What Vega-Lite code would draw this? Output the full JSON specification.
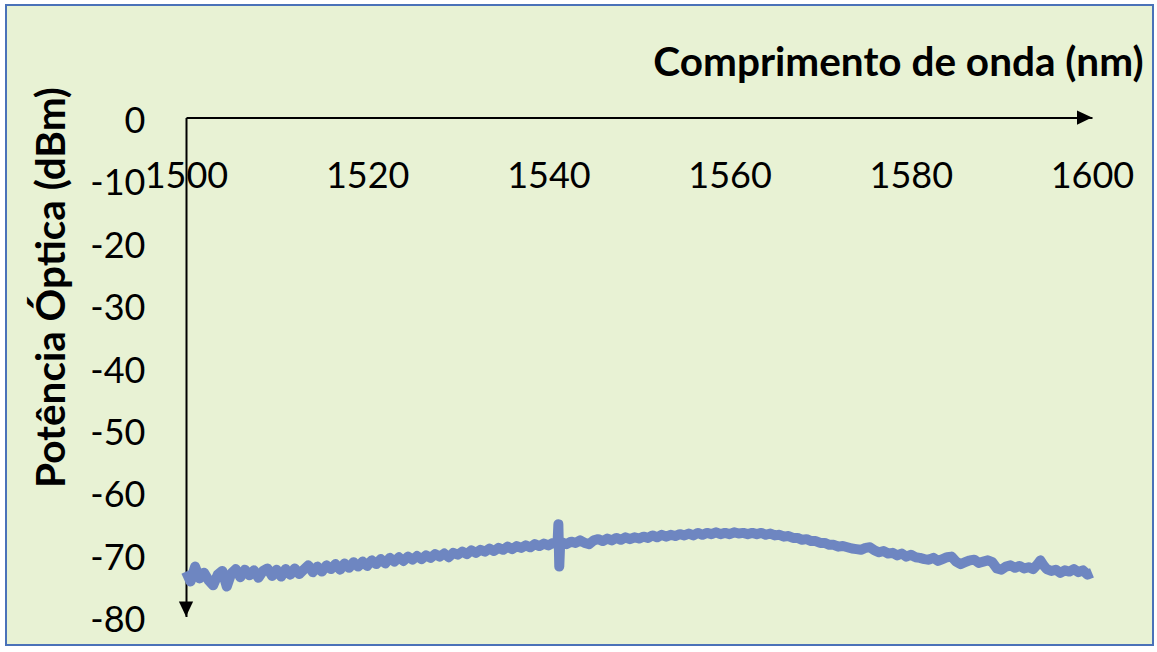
{
  "$schema": "https://vega.github.io/schema/vega-lite/v6.json",
  "width": 1147,
  "height": 640,
  "autosize": "none",
  "padding": {"left": 6, "top": 5, "right": 4, "bottom": 7},
  "background": "#ffffff",
  "config": {
    "view": {"fill": "#E8F2D4", "stroke": "#4A72B8", "strokeWidth": 2},
    "font": "Lato",
    "axis": {
      "domainColor": "#000000",
      "domainWidth": 2,
      "ticks": false,
      "tickSize": 0,
      "grid": false,
      "labelFont": "Lato",
      "labelFontSize": 36,
      "labelColor": "#000000",
      "labelFlush": false,
      "labelOverlap": false,
      "titleFont": "Lato",
      "titleFontWeight": "bold",
      "titleFontSize": 40.5,
      "titleColor": "#000000",
      "zindex": 1
    }
  },
  "datasets": {
    "spectrum": [
      {"nm": 1500.0, "dBm": -72.8}, {"nm": 1500.5, "dBm": -74.4}, {"nm": 1501.0, "dBm": -72.0}, {"nm": 1501.5, "dBm": -73.9},
      {"nm": 1502.0, "dBm": -73.0}, {"nm": 1502.5, "dBm": -74.2}, {"nm": 1503.0, "dBm": -75.0}, {"nm": 1503.5, "dBm": -73.3},
      {"nm": 1504.0, "dBm": -72.7}, {"nm": 1504.5, "dBm": -75.2}, {"nm": 1505.0, "dBm": -73.1}, {"nm": 1505.5, "dBm": -72.4},
      {"nm": 1506.0, "dBm": -73.7}, {"nm": 1506.5, "dBm": -72.5}, {"nm": 1507.0, "dBm": -73.4}, {"nm": 1507.5, "dBm": -72.6},
      {"nm": 1508.0, "dBm": -73.8}, {"nm": 1508.5, "dBm": -72.7}, {"nm": 1509.0, "dBm": -72.3}, {"nm": 1509.5, "dBm": -73.5},
      {"nm": 1510.0, "dBm": -72.5}, {"nm": 1510.5, "dBm": -73.6}, {"nm": 1511.0, "dBm": -72.4}, {"nm": 1511.5, "dBm": -73.3},
      {"nm": 1512.0, "dBm": -72.3}, {"nm": 1512.5, "dBm": -73.2}, {"nm": 1513.0, "dBm": -72.5}, {"nm": 1513.5, "dBm": -71.8},
      {"nm": 1514.0, "dBm": -72.9}, {"nm": 1514.5, "dBm": -72.0}, {"nm": 1515.0, "dBm": -72.8}, {"nm": 1515.5, "dBm": -71.8},
      {"nm": 1516.0, "dBm": -72.4}, {"nm": 1516.5, "dBm": -71.6}, {"nm": 1517.0, "dBm": -72.5}, {"nm": 1517.5, "dBm": -71.5},
      {"nm": 1518.0, "dBm": -72.2}, {"nm": 1518.5, "dBm": -71.3}, {"nm": 1519.0, "dBm": -72.0}, {"nm": 1519.5, "dBm": -71.2},
      {"nm": 1520.0, "dBm": -71.9}, {"nm": 1520.5, "dBm": -71.0}, {"nm": 1521.0, "dBm": -71.6}, {"nm": 1521.5, "dBm": -70.8},
      {"nm": 1522.0, "dBm": -71.5}, {"nm": 1522.5, "dBm": -70.6}, {"nm": 1523.0, "dBm": -71.2}, {"nm": 1523.5, "dBm": -70.5},
      {"nm": 1524.0, "dBm": -71.1}, {"nm": 1524.5, "dBm": -70.4}, {"nm": 1525.0, "dBm": -70.9}, {"nm": 1525.5, "dBm": -70.3},
      {"nm": 1526.0, "dBm": -70.8}, {"nm": 1526.5, "dBm": -70.2}, {"nm": 1527.0, "dBm": -70.6}, {"nm": 1527.5, "dBm": -70.0},
      {"nm": 1528.0, "dBm": -70.4}, {"nm": 1528.5, "dBm": -69.9}, {"nm": 1529.0, "dBm": -70.5}, {"nm": 1529.5, "dBm": -69.8},
      {"nm": 1530.0, "dBm": -70.1}, {"nm": 1530.5, "dBm": -69.6}, {"nm": 1531.0, "dBm": -70.0}, {"nm": 1531.5, "dBm": -69.4},
      {"nm": 1532.0, "dBm": -69.8}, {"nm": 1532.5, "dBm": -69.3}, {"nm": 1533.0, "dBm": -69.6}, {"nm": 1533.5, "dBm": -69.1},
      {"nm": 1534.0, "dBm": -69.5}, {"nm": 1534.5, "dBm": -69.0}, {"nm": 1535.0, "dBm": -69.3}, {"nm": 1535.5, "dBm": -68.8},
      {"nm": 1536.0, "dBm": -69.2}, {"nm": 1536.5, "dBm": -68.7}, {"nm": 1537.0, "dBm": -69.0}, {"nm": 1537.5, "dBm": -68.6},
      {"nm": 1538.0, "dBm": -68.9}, {"nm": 1538.5, "dBm": -68.4}, {"nm": 1539.0, "dBm": -68.7}, {"nm": 1539.5, "dBm": -68.3},
      {"nm": 1540.0, "dBm": -68.6}, {"nm": 1540.5, "dBm": -68.2}, {"nm": 1541.0, "dBm": -68.4}, {"nm": 1541.1, "dBm": -65.2},
      {"nm": 1541.2, "dBm": -72.0}, {"nm": 1541.3, "dBm": -68.3}, {"nm": 1541.5, "dBm": -68.1}, {"nm": 1542.0, "dBm": -68.4},
      {"nm": 1542.5, "dBm": -68.0}, {"nm": 1543.0, "dBm": -68.2}, {"nm": 1543.5, "dBm": -67.8}, {"nm": 1544.0, "dBm": -68.2},
      {"nm": 1544.5, "dBm": -68.4}, {"nm": 1545.0, "dBm": -67.8}, {"nm": 1545.5, "dBm": -67.6}, {"nm": 1546.0, "dBm": -67.9},
      {"nm": 1546.5, "dBm": -67.5}, {"nm": 1547.0, "dBm": -67.8}, {"nm": 1547.5, "dBm": -67.4}, {"nm": 1548.0, "dBm": -67.7},
      {"nm": 1548.5, "dBm": -67.3}, {"nm": 1549.0, "dBm": -67.6}, {"nm": 1549.5, "dBm": -67.3}, {"nm": 1550.0, "dBm": -67.5},
      {"nm": 1550.5, "dBm": -67.2}, {"nm": 1551.0, "dBm": -67.4}, {"nm": 1551.5, "dBm": -67.0}, {"nm": 1552.0, "dBm": -67.3},
      {"nm": 1552.5, "dBm": -66.9}, {"nm": 1553.0, "dBm": -67.2}, {"nm": 1553.5, "dBm": -66.9}, {"nm": 1554.0, "dBm": -67.1},
      {"nm": 1554.5, "dBm": -66.8}, {"nm": 1555.0, "dBm": -67.0}, {"nm": 1555.5, "dBm": -66.7}, {"nm": 1556.0, "dBm": -67.0},
      {"nm": 1556.5, "dBm": -66.6}, {"nm": 1557.0, "dBm": -66.9}, {"nm": 1557.5, "dBm": -66.6}, {"nm": 1558.0, "dBm": -66.8},
      {"nm": 1558.5, "dBm": -66.5}, {"nm": 1559.0, "dBm": -66.8}, {"nm": 1559.5, "dBm": -66.6}, {"nm": 1560.0, "dBm": -66.8},
      {"nm": 1560.5, "dBm": -66.5}, {"nm": 1561.0, "dBm": -66.7}, {"nm": 1561.5, "dBm": -66.6}, {"nm": 1562.0, "dBm": -66.8},
      {"nm": 1562.5, "dBm": -66.6}, {"nm": 1563.0, "dBm": -66.8}, {"nm": 1563.5, "dBm": -66.6}, {"nm": 1564.0, "dBm": -66.9},
      {"nm": 1564.5, "dBm": -66.7}, {"nm": 1565.0, "dBm": -67.0}, {"nm": 1565.5, "dBm": -66.9}, {"nm": 1566.0, "dBm": -67.2},
      {"nm": 1566.5, "dBm": -67.1}, {"nm": 1567.0, "dBm": -67.4}, {"nm": 1567.5, "dBm": -67.4}, {"nm": 1568.0, "dBm": -67.7},
      {"nm": 1568.5, "dBm": -67.6}, {"nm": 1569.0, "dBm": -67.9}, {"nm": 1569.5, "dBm": -67.9}, {"nm": 1570.0, "dBm": -68.2},
      {"nm": 1570.5, "dBm": -68.2}, {"nm": 1571.0, "dBm": -68.5}, {"nm": 1571.5, "dBm": -68.5}, {"nm": 1572.0, "dBm": -68.8},
      {"nm": 1572.5, "dBm": -68.7}, {"nm": 1573.0, "dBm": -68.9}, {"nm": 1573.5, "dBm": -69.1}, {"nm": 1574.0, "dBm": -69.2},
      {"nm": 1574.5, "dBm": -69.3}, {"nm": 1575.0, "dBm": -69.0}, {"nm": 1575.5, "dBm": -68.9}, {"nm": 1576.0, "dBm": -69.4},
      {"nm": 1576.5, "dBm": -69.7}, {"nm": 1577.0, "dBm": -69.5}, {"nm": 1577.5, "dBm": -69.9}, {"nm": 1578.0, "dBm": -69.8},
      {"nm": 1578.5, "dBm": -70.2}, {"nm": 1579.0, "dBm": -69.9}, {"nm": 1579.5, "dBm": -70.4}, {"nm": 1580.0, "dBm": -70.1},
      {"nm": 1580.5, "dBm": -70.5}, {"nm": 1581.0, "dBm": -70.6}, {"nm": 1581.5, "dBm": -70.8}, {"nm": 1582.0, "dBm": -70.9},
      {"nm": 1582.5, "dBm": -70.6}, {"nm": 1583.0, "dBm": -71.1}, {"nm": 1583.5, "dBm": -70.8}, {"nm": 1584.0, "dBm": -70.5},
      {"nm": 1584.5, "dBm": -70.4}, {"nm": 1585.0, "dBm": -71.2}, {"nm": 1585.5, "dBm": -71.6}, {"nm": 1586.0, "dBm": -71.3},
      {"nm": 1586.5, "dBm": -71.0}, {"nm": 1587.0, "dBm": -70.9}, {"nm": 1587.5, "dBm": -71.4}, {"nm": 1588.0, "dBm": -71.2},
      {"nm": 1588.5, "dBm": -71.0}, {"nm": 1589.0, "dBm": -71.3}, {"nm": 1589.5, "dBm": -72.3}, {"nm": 1590.0, "dBm": -72.5},
      {"nm": 1590.5, "dBm": -72.0}, {"nm": 1591.0, "dBm": -71.8}, {"nm": 1591.5, "dBm": -72.2}, {"nm": 1592.0, "dBm": -71.9},
      {"nm": 1592.5, "dBm": -72.3}, {"nm": 1593.0, "dBm": -72.1}, {"nm": 1593.5, "dBm": -72.4}, {"nm": 1594.0, "dBm": -71.6},
      {"nm": 1594.3, "dBm": -71.0}, {"nm": 1594.6, "dBm": -71.7}, {"nm": 1595.0, "dBm": -72.4}, {"nm": 1595.5, "dBm": -72.7},
      {"nm": 1596.0, "dBm": -72.5}, {"nm": 1596.5, "dBm": -73.0}, {"nm": 1597.0, "dBm": -72.6}, {"nm": 1597.5, "dBm": -72.8},
      {"nm": 1598.0, "dBm": -72.4}, {"nm": 1598.5, "dBm": -72.9}, {"nm": 1599.0, "dBm": -72.6}, {"nm": 1599.5, "dBm": -73.3},
      {"nm": 1600.0, "dBm": -73.0}
    ],
    "arrows": [
      {"nm": 1600, "dBm": 0, "head": "right"},
      {"nm": 1500, "dBm": -80, "head": "down"}
    ]
  },
  "layer": [
    {
      "data": {"name": "spectrum"},
      "mark": {
        "type": "line",
        "color": "#6E86C1",
        "strokeWidth": 10,
        "strokeCap": "butt",
        "strokeJoin": "round"
      },
      "encoding": {
        "x": {
          "field": "nm",
          "type": "quantitative",
          "scale": {"domain": [1500, 1600], "range": [180, 1086], "nice": false, "zero": false},
          "axis": {
            "orient": "bottom",
            "offset": -527.5,
            "values": [1500, 1520, 1540, 1560, 1580, 1600],
            "labelExpr": "'' + datum.value",
            "labelBaseline": "alphabetic",
            "labelPadding": 69.5,
            "title": "Comprimento de onda (nm)",
            "titleX": 1137,
            "titleY": -42.5,
            "titleAlign": "right",
            "titleBaseline": "alphabetic",
            "titleAngle": 0
          }
        },
        "y": {
          "field": "dBm",
          "type": "quantitative",
          "scale": {"domain": [-80, 0], "range": [611.5, 112.5], "nice": false, "zero": false},
          "axis": {
            "orient": "left",
            "offset": -180,
            "values": [0, -10, -20, -30, -40, -50, -60, -70, -80],
            "labelExpr": "'' + datum.value",
            "labelAlign": "right",
            "labelBaseline": "middle",
            "labelPadding": 41,
            "labelOffset": 4,
            "title": "Potência Óptica (dBm)",
            "titleAngle": -90,
            "titleX": -134,
            "titleY": 282,
            "titleAlign": "center",
            "titleBaseline": "middle"
          }
        }
      }
    },
    {
      "data": {"name": "arrows"},
      "mark": {"type": "point", "filled": true, "opacity": 1, "color": "#000000", "size": 225},
      "encoding": {
        "x": {"field": "nm", "type": "quantitative"},
        "y": {"field": "dBm", "type": "quantitative"},
        "shape": {
          "field": "head",
          "type": "nominal",
          "legend": null,
          "scale": {
            "domain": ["right", "down"],
            "range": ["M 0 0 L -2 -0.95 L -2 0.95 Z", "M 0 0 L -0.95 -2 L 0.95 -2 Z"]
          }
        }
      }
    }
  ]
}
